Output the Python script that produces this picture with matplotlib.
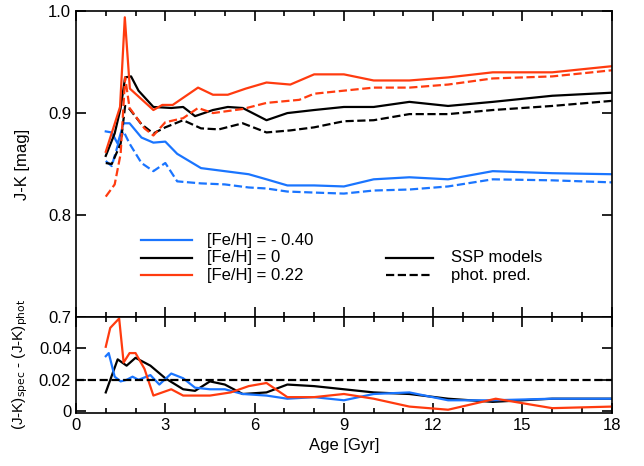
import numpy as np
import matplotlib
matplotlib.use('Agg')
import matplotlib.pyplot as plt

plt.rcParams['font.family'] = ['Liberation Sans', 'DejaVu Sans']
plt.rcParams['font.size'] = 12

blue = '#1a75ff'
red = '#ff3b0f'

# top panel: SSP models (solid) and photometric predictions (dashed)
age_r = [1.0, 1.48, 1.64, 1.81, 2.6, 2.9, 3.25, 3.6, 4.1, 4.6, 5.1, 5.7, 6.4, 7.2, 8.0, 9.0, 10.0, 11.2, 12.5, 14.0, 16.0, 18.0]
red_ssp = [0.862, 0.906, 0.994, 0.924, 0.903, 0.908, 0.908, 0.915, 0.925, 0.918, 0.918, 0.924, 0.930, 0.928, 0.938, 0.938, 0.932, 0.932, 0.935, 0.940, 0.940, 0.946]

age_k = [1.0, 1.3, 1.5, 1.65, 1.85, 2.1, 2.6, 3.2, 3.6, 4.0, 4.6, 5.1, 5.6, 6.4, 7.1, 8.0, 9.0, 10.0, 11.2, 12.5, 14.0, 16.0, 18.0]
blk_ssp = [0.858, 0.88, 0.905, 0.935, 0.936, 0.922, 0.906, 0.905, 0.906, 0.897, 0.903, 0.906, 0.905, 0.893, 0.900, 0.903, 0.906, 0.906, 0.911, 0.907, 0.911, 0.917, 0.920]

age_kd = [1.0, 1.2, 1.5, 1.65, 1.8, 2.2, 2.6, 3.0, 3.6, 4.2, 4.8, 5.6, 6.4, 7.2, 8.0, 9.0, 10.0, 11.2, 12.5, 14.0, 16.0, 18.0]
blk_phot = [0.851, 0.850, 0.87, 0.907, 0.904, 0.889, 0.880, 0.886, 0.893, 0.885, 0.884, 0.890, 0.881, 0.883, 0.886, 0.892, 0.893, 0.899, 0.899, 0.903, 0.907, 0.912]

age_rd = [1.0, 1.3, 1.5, 1.65, 1.8, 2.3, 2.6, 3.0, 3.6, 4.1, 4.6, 5.6, 6.4, 7.5, 8.0, 9.0, 10.0, 11.2, 12.5, 14.0, 16.0, 18.0]
red_phot = [0.818, 0.83, 0.86, 0.935, 0.905, 0.885, 0.878, 0.891, 0.895, 0.905, 0.900, 0.904, 0.910, 0.913, 0.919, 0.922, 0.925, 0.925, 0.928, 0.934, 0.936, 0.942]

age_b = [1.0, 1.2, 1.4, 1.6, 1.8, 2.2, 2.6, 3.0, 3.4, 4.2, 5.0, 5.8, 6.4, 7.1, 8.0, 9.0, 10.0, 11.2, 12.5, 14.0, 16.0, 18.0]
blu_ssp = [0.882, 0.881, 0.870, 0.890, 0.890, 0.876, 0.871, 0.872, 0.860, 0.846, 0.843, 0.840, 0.835, 0.829, 0.829, 0.828, 0.835, 0.837, 0.835, 0.843, 0.841, 0.840]
blu_phot = [0.853, 0.848, 0.868, 0.882, 0.870, 0.851, 0.843, 0.851, 0.833, 0.831, 0.830, 0.827, 0.826, 0.823, 0.822, 0.821, 0.824, 0.825, 0.828, 0.835, 0.834, 0.832]

# bottom panel: (J-K)spec - (J-K)phot
dage_k = [1.0, 1.4, 1.7, 2.0, 2.5, 3.0, 3.6, 4.0, 4.5, 5.0, 5.6, 6.4, 7.1, 8.0, 9.0, 10.0, 11.2, 12.5, 14.0, 16.0, 18.0]
diff_k = [0.012, 0.033, 0.029, 0.034, 0.029, 0.021, 0.014, 0.013, 0.019, 0.017, 0.011, 0.012, 0.017, 0.016, 0.014, 0.012, 0.011, 0.008, 0.006, 0.008, 0.008]
dage_b = [1.0, 1.1, 1.3, 1.5, 1.7, 1.9, 2.1, 2.5, 2.8, 3.2, 3.6, 4.0, 4.5, 5.0, 5.6, 6.4, 7.1, 8.0, 9.0, 10.0, 11.2, 12.5, 14.0, 16.0, 18.0]
diff_b = [0.035, 0.037, 0.022, 0.019, 0.020, 0.022, 0.020, 0.023, 0.017, 0.024, 0.021, 0.015, 0.014, 0.014, 0.011, 0.010, 0.008, 0.009, 0.007, 0.011, 0.012, 0.007, 0.007, 0.008, 0.008]
dage_r = [1.0, 1.15, 1.45, 1.6, 1.8, 2.0, 2.3, 2.6, 3.2, 3.6, 4.5, 5.2, 5.8, 6.4, 7.1, 8.0, 9.0, 10.0, 11.2, 12.5, 14.1, 16.0, 18.0]
diff_r = [0.041, 0.053, 0.059, 0.031, 0.037, 0.037, 0.027, 0.010, 0.014, 0.010, 0.010, 0.012, 0.016, 0.018, 0.009, 0.009, 0.011, 0.008, 0.003, 0.001, 0.008, 0.002, 0.003]

fig = plt.figure(figsize=(6.44, 4.66), dpi=100)
ax1 = fig.add_axes([0.118, 0.320, 0.832, 0.656])
ax2 = fig.add_axes([0.118, 0.114, 0.832, 0.206], sharex=ax1)

lw = 1.6
ax1.plot(age_b, blu_ssp, color=blue, lw=lw)
ax1.plot(age_b, blu_phot, color=blue, lw=lw, ls='--')
ax1.plot(age_k, blk_ssp, color='black', lw=lw)
ax1.plot(age_kd, blk_phot, color='black', lw=lw, ls='--')
ax1.plot(age_r, red_ssp, color=red, lw=lw)
ax1.plot(age_rd, red_phot, color=red, lw=lw, ls='--')

# legend drawn by hand, like the original
for i, (c, lab) in enumerate([(blue, '[Fe/H] = - 0.40'), (black := 'black', '[Fe/H] = 0'), (red, '[Fe/H] = 0.22')]):
    y = 0.775 - i * 0.017
    ax1.plot([2.2, 3.9], [y, y], color=c, lw=lw)
    ax1.text(4.4, y, lab, va='center', fontsize=12)
for i, (ls, lab) in enumerate([('-', 'SSP models'), ('--', 'phot. pred.')]):
    y = 0.758 - i * 0.017
    ax1.plot([10.4, 12.0], [y, y], color='black', lw=lw, ls=ls)
    ax1.text(12.6, y, lab, va='center', fontsize=12)

ax1.set_xlim(0, 18)
ax1.set_ylim(0.7, 1.0)
ax1.set_yticks([0.7, 0.8, 0.9, 1.0])
ax1.set_yticklabels(['0.7', '0.8', '0.9', '1.0'])
ax1.set_ylabel('J-K [mag]')
plt.setp(ax1.get_xticklabels(), visible=False)

ax2.plot(dage_k, diff_k, color='black', lw=lw)
ax2.plot(dage_b, diff_b, color=blue, lw=lw)
ax2.plot(dage_r, diff_r, color=red, lw=lw)
ax2.axhline(0.02, color='black', lw=lw, ls='--')
ax2.set_ylim(-0.001, 0.06)
ax2.set_yticks([0, 0.02, 0.04])
ax2.set_yticklabels(['0', '0.02', '0.04'])
ax2.set_xticks(np.arange(0, 19, 3))
ax2.set_xlabel('Age [Gyr]')
ax2.set_ylabel(r'(J-K)$_{\rm spec}$ - (J-K)$_{\rm phot}$', fontsize=11)

for ax in (ax1, ax2):
    ax.set_xticks(np.arange(0, 19, 1), minor=True)
    ax.tick_params(direction='in', top=True, right=True, which='both', width=1.2)
    ax.tick_params(which='major', length=7)
    ax.tick_params(which='minor', length=3.5)
    for s in ax.spines.values():
        s.set_linewidth(1.2)
ax1.yaxis.set_label_coords(-0.085, 0.5)
ax2.yaxis.set_label_coords(-0.085, 0.5)

fig.savefig('out.png', dpi=100)
